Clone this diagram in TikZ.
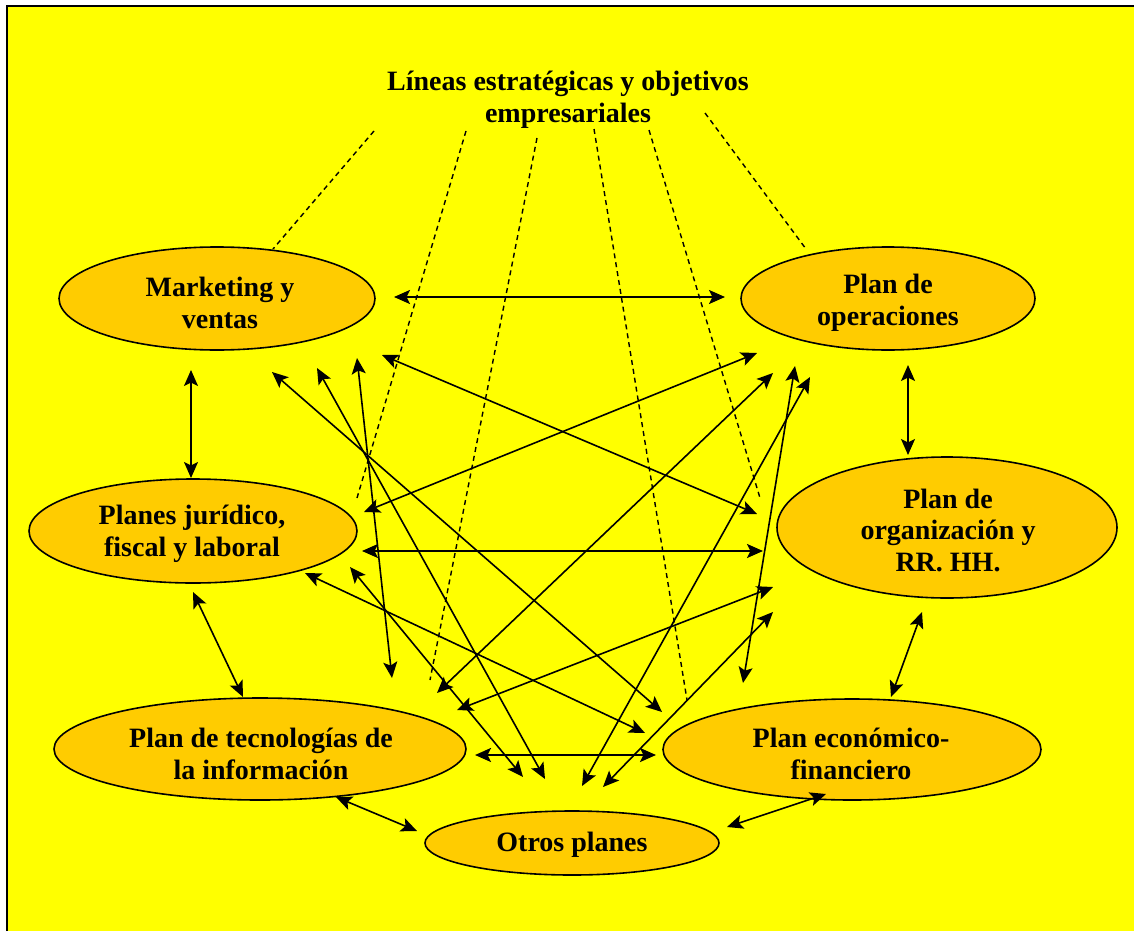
\documentclass[tikz,border=0pt]{standalone}
\usepackage{fontspec}
\setmainfont{Liberation Serif}
\usetikzlibrary{shapes.geometric,arrows.meta}
\definecolor{pagebg}{HTML}{FFFF00}
\definecolor{planfill}{HTML}{FFCC00}

\begin{document}
\begin{tikzpicture}[x=1pt,y=-1pt,
  planbox/.style={ellipse, draw=black, line width=1.6pt, fill=planfill, inner sep=0pt},
  label/.style={font=\bfseries\fontsize{28}{31.5}\selectfont, align=center, inner sep=0pt},
  tip/.tip={Stealth[length=16pt,width=14pt,inset=3.5pt]},
  link/.style={tip-tip, line width=1.6pt},
  mainlink/.style={tip-tip, line width=2.4pt},
  guide/.style={line width=1.4pt, dash pattern=on 5pt off 4pt}]

% page and frame
\useasboundingbox (0,0) rectangle (1134,931);
\fill[white] (0,0) rectangle (1134,931);
\fill[pagebg] (7,6) rectangle (1134,931);
\draw[line width=2pt] (7,931) -- (7,6) -- (1134,6);

% title
\node[label] (title) at (568,100) {Líneas estratégicas y objetivos\\empresariales};

% plans
\node[planbox, minimum width=316pt, minimum height=103pt] (mk)  at (217,298.5) {};
\node[planbox, minimum width=294pt, minimum height=103pt] (op)  at (888,298.5) {};
\node[planbox, minimum width=328pt, minimum height=104pt] (ju)  at (193,531) {};
\node[planbox, minimum width=340pt, minimum height=141pt] (org) at (947,527.5) {};
\node[planbox, minimum width=412pt, minimum height=102pt] (ti)  at (260,749) {};
\node[planbox, minimum width=378pt, minimum height=101pt] (ec)  at (852,749.5) {};
\node[planbox, minimum width=294pt, minimum height=64pt]  (ot)  at (572,843) {};

\node[label] (mkt)  at (220,303) {Marketing y\\ventas};
\node[label] (opt)  at (888,303) {Plan de\\operaciones};
\node[label] (jut)  at (192,534) {Planes jurídico,\\fiscal y laboral};
\node[label] (orgt) at (948,530) {Plan de\\organización y\\RR. HH.};
\node[label] (tit)  at (261,754) {Plan de tecnologías de\\la información};
\node[label] (ect)  at (851,754) {Plan económico-\\financiero};
\node[label] (ott)  at (572,845) {Otros planes};

% connector ends
\coordinate (mk-op-a) at (394,297);   \coordinate (mk-op-b) at (725,297);
\coordinate (mk-ju-a) at (191,370);   \coordinate (mk-ju-b) at (191,478);
\coordinate (op-org-a) at (908,365);  \coordinate (op-org-b) at (908,455);
\coordinate (ju-org-a) at (362,551);  \coordinate (ju-org-b) at (763,551);
\coordinate (ju-ti-a) at (193,592);   \coordinate (ju-ti-b) at (243,697);
\coordinate (org-ec-a) at (922,612);  \coordinate (org-ec-b) at (891,697);
\coordinate (ti-ec-a) at (475,755);   \coordinate (ti-ec-b) at (656,755);
\coordinate (ti-ot-a) at (336,797);   \coordinate (ti-ot-b) at (417,831);
\coordinate (ot-ec-a) at (727,827);   \coordinate (ot-ec-b) at (826,794);

\coordinate (mk-org-a) at (382,355);  \coordinate (mk-org-b) at (757,514);
\coordinate (op-ju-a) at (757,353);   \coordinate (op-ju-b) at (364,512);
\coordinate (mk-ec-a) at (272,372);   \coordinate (mk-ec-b) at (662,712);
\coordinate (mk-ot-a) at (317,368);   \coordinate (mk-ot-b) at (545,779);
\coordinate (mk-ti-a) at (357,358);   \coordinate (mk-ti-b) at (392,678);
\coordinate (ju-ot-a) at (350,567);   \coordinate (ju-ot-b) at (523,777);
\coordinate (ju-ec-a) at (305,573);   \coordinate (ju-ec-b) at (645,733);
\coordinate (op-ti-a) at (773,373);   \coordinate (op-ti-b) at (437,693);
\coordinate (ti-org-a) at (457,710);  \coordinate (ti-org-b) at (773,587);
\coordinate (ot-org-a) at (603,787);  \coordinate (ot-org-b) at (773,612);
\coordinate (op-ec-a) at (795,366);   \coordinate (op-ec-b) at (743,683);
\coordinate (op-ot-a) at (810,377);   \coordinate (op-ot-b) at (582,786);

% strategic guidelines reaching each plan
\coordinate (g1a) at (374,131); \coordinate (g1b) at (273,249);
\coordinate (g2a) at (466,131); \coordinate (g2b) at (357,498);
\coordinate (g3a) at (537,138); \coordinate (g3b) at (430,680);
\coordinate (g4a) at (594,129); \coordinate (g4b) at (687,700);
\coordinate (g5a) at (649,130); \coordinate (g5b) at (760,498);
\coordinate (g6a) at (705,113); \coordinate (g6b) at (806,249);

\foreach \g in {g1,g2,g3,g4,g5,g6}
  \draw[guide] (\g a) -- (\g b);

% links between neighbouring plans
\draw[mainlink] (mk-op-a) -- (mk-op-b);
\draw[mainlink] (ju-org-a) -- (ju-org-b);
\draw[mainlink] (ti-ec-a) -- (ti-ec-b);
\foreach \l in {mk-ju,op-org,ju-ti,org-ec,ti-ot,ot-ec}
  \draw[link] (\l-a) -- (\l-b);

% crossing links
\foreach \l in {mk-org,op-ju,mk-ec,mk-ot,mk-ti,ju-ot,ju-ec,op-ti,ti-org,ot-org,op-ec,op-ot}
  \draw[link] (\l-a) -- (\l-b);
\end{tikzpicture}
\end{document}
